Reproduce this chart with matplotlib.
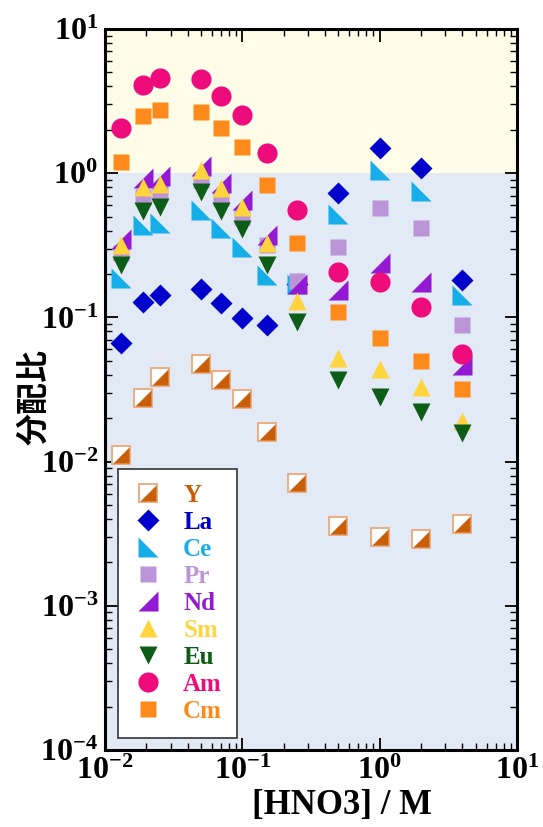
import matplotlib
matplotlib.use("Agg")
import matplotlib.pyplot as plt
from matplotlib.lines import Line2D
from matplotlib.legend_handler import HandlerTuple
from matplotlib.ticker import LogLocator, NullFormatter

# Nitric acid concentration (M)
hno3 = [0.013, 0.019, 0.025, 0.05, 0.07, 0.1, 0.15, 0.25, 0.5, 1, 2, 4]

# Distribution ratios per element
d_Y = [0.0112, 0.0275, 0.0385, 0.0473, 0.0367, 0.0271, 0.016, 0.0071, 0.00356, 0.00299, 0.0029, 0.00368]
d_La = [0.066, 0.127, 0.143, 0.157, 0.125, 0.0987, 0.088, 0.17, 0.726, 1.49, 1.08, 0.181]
d_Ce = [0.187, 0.436, 0.45, 0.553, 0.42, 0.307, 0.196, 0.17, 0.525, 1.05, 0.75, 0.143]
d_Pr = [0.28, 0.68, 0.73, 0.89, 0.67, 0.50, 0.32, 0.18, 0.31, 0.57, 0.42, 0.088]
d_Nd = [0.35, 0.92, 0.95, 1.13, 0.85, 0.65, 0.37, 0.17, 0.155, 0.238, 0.175, 0.047]
d_Sm = [0.32, 0.80, 0.84, 1.05, 0.79, 0.58, 0.33, 0.13, 0.052, 0.044, 0.033, 0.019]
d_Eu = [0.23, 0.55, 0.58, 0.74, 0.55, 0.41, 0.23, 0.093, 0.037, 0.028, 0.022, 0.0158]
d_Am = [2.05, 4.08, 4.6, 4.5, 3.42, 2.53, 1.38, 0.56, 0.206, 0.175, 0.118, 0.056]
d_Cm = [1.19, 2.49, 2.73, 2.65, 2.05, 1.51, 0.83, 0.33, 0.109, 0.072, 0.05, 0.032]

labels = ["Y", "La", "Ce", "Pr", "Nd", "Sm", "Eu", "Am", "Cm"]
colors = {
    "Y": "#C85E08", "La": "#0000CC", "Ce": "#16AEE8", "Pr": "#BC95D8",
    "Nd": "#9419D2", "Sm": "#FFD43C", "Eu": "#0D5C17", "Am": "#EE0C7C",
    "Cm": "#FF8A1C",
}
y_edge = "#EBA87A"

tri_ll = [(-1, 1), (-1, -1), (1, -1)]   # right angle at lower left
tri_lr = [(-1, -1), (1, -1), (1, 1)]    # right angle at lower right

plt.rcParams["font.family"] = ["Liberation Serif"]
plt.rcParams["font.weight"] = "bold"
plt.rcParams["mathtext.default"] = "regular"

fig = plt.figure(figsize=(5.43, 8.27), dpi=100)
ax = fig.add_axes([105 / 543, 1 - 750 / 827, 412 / 543, 721 / 827])
ax.set_xscale("log")
ax.set_yscale("log")
ax.set_xlim(1e-2, 1e1)
ax.set_ylim(1e-4, 1e1)

ax.axhspan(1, 10, color="#FFFDE8", zorder=0, lw=0)
ax.axhspan(1e-4, 1, color="#E2EAF6", zorder=0, lw=0)

style = {
    "La": dict(marker="D", ms=11.5),
    "Ce": dict(marker=tri_ll, ms=14),
    "Pr": dict(marker="s", ms=12),
    "Nd": dict(marker=tri_lr, ms=14),
    "Sm": dict(marker="^", ms=13),
    "Eu": dict(marker="v", ms=13),
    "Am": dict(marker="o", ms=14.5),
    "Cm": dict(marker="s", ms=12),
}
data = {"Y": d_Y, "La": d_La, "Ce": d_Ce, "Pr": d_Pr, "Nd": d_Nd,
        "Sm": d_Sm, "Eu": d_Eu, "Am": d_Am, "Cm": d_Cm}

y_box = dict(ls="none", marker="s", ms=13.5, mfc="white", mec=y_edge, mew=1.3)
y_half = dict(ls="none", marker=tri_lr, ms=12.2, mfc=colors["Y"], mec="none")

handles = []
for i, name in enumerate(labels):
    z = 3 + i
    if name == "Y":
        ax.plot(hno3, d_Y, zorder=z, **y_box)
        ax.plot(hno3, d_Y, zorder=z + 0.5, **y_half)
        handles.append((Line2D([], [], **y_box), Line2D([], [], **y_half)))
    else:
        st = style[name]
        ax.plot(hno3, data[name], ls="none", mfc=colors[name], mec="none",
                zorder=z, **st)
        handles.append(Line2D([], [], ls="none", mfc=colors[name], mec="none", **st))

leg = ax.legend(handles, labels, loc="lower left",
                bbox_to_anchor=(0.032, 0.017),
                handler_map={tuple: HandlerTuple(ndivide=1, pad=0)},
                prop=dict(family="Liberation Serif", weight="bold", size=18),
                frameon=True, fancybox=False, edgecolor="#333333",
                framealpha=1, labelspacing=0.16, handletextpad=0.8,
                borderpad=0.6, borderaxespad=0, handlelength=1.2)
leg.get_frame().set_linewidth(1.2)
for txt, name in zip(leg.get_texts(), labels):
    txt.set_color(colors[name])
leg.set_zorder(20)

for sp in ax.spines.values():
    sp.set_linewidth(2.2)
    sp.set_zorder(30)

ax.xaxis.set_major_locator(LogLocator(base=10, numticks=10))
ax.xaxis.set_minor_locator(LogLocator(base=10, subs=range(2, 10), numticks=20))
ax.yaxis.set_major_locator(LogLocator(base=10, numticks=10))
ax.yaxis.set_minor_locator(LogLocator(base=10, subs=range(2, 10), numticks=20))
ax.xaxis.set_minor_formatter(NullFormatter())
ax.yaxis.set_minor_formatter(NullFormatter())
ax.tick_params(which="both", direction="in", top=True, right=True)
ax.tick_params(which="major", length=9, width=1.3, labelsize=23, pad=5)
ax.tick_params(which="minor", length=5, width=1.0)
for lab in ax.get_xticklabels() + ax.get_yticklabels():
    lab.set_fontweight("bold")
    lab.set_family("Liberation Serif")

ax.set_xlabel("[HNO3] / M", fontsize=25, fontweight="bold",
              family="Liberation Serif")
ax.xaxis.set_label_coords(0.575, -0.054)
ax.set_ylabel("分配比", fontsize=23, fontweight="bold",
              family=["Noto Sans CJK JP", "DejaVu Sans"])
ax.yaxis.set_label_coords(-0.133, 0.49)

fig.savefig("out.png", dpi=100)
